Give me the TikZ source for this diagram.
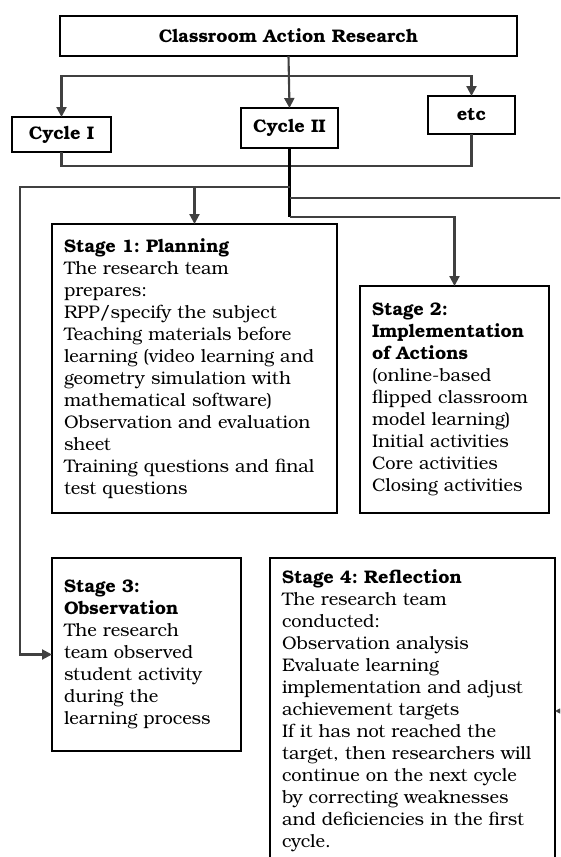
\documentclass[tikz,border=0pt]{standalone}
\usepackage{fontspec}
\setmainfont{texgyrebonum}[Extension=.otf, UprightFont=*-regular, BoldFont=*-bold, ItalicFont=*-italic, BoldItalicFont=*-bolditalic]
\usetikzlibrary{arrows.meta}
\newcommand\bodyfont{\fontsize{18.2}{22}\selectfont\frenchspacing}
\tikzset{
  box/.style={draw=black, line width=1.9pt, rectangle, outer sep=0pt, inner xsep=12pt, inner ysep=0pt, align=left, font=\bodyfont},
  headbox/.style={box, align=center, font=\bodyfont\bfseries},
  conn/.style={draw=black!75, line width=2.1pt},
  arr/.style={conn, -{Triangle[length=10pt,width=10pt]}},
}
\begin{document}
\begin{tikzpicture}[x=1pt,y=-1pt]
\useasboundingbox (0,0) rectangle (560,857);
\clip (0,0) rectangle (560,857);
\fill[white] (0,0) rectangle (560,857);

\node[headbox, anchor=north west, minimum width=457pt, minimum height=40pt] (title) at (60,16) {Classroom Action Research};
\node[headbox, anchor=north west, minimum width=99pt, minimum height=35pt] (c1) at (12,117) {Cycle I};
\node[headbox, anchor=north west, minimum width=97pt, minimum height=40pt] (c2) at (241,108) {Cycle II};
\node[headbox, anchor=north west, minimum width=87pt, minimum height=38pt] (etc) at (428,96) {etc};

\node[box, anchor=north west, text width=261pt, minimum height=289pt] (s1) at (52,224) {\textbf{Stage 1: Planning}\\
The research team\\
prepares:\\
RPP/specify the subject\\
Teaching materials before\\
learning (video learning and\\
geometry simulation with\\
mathematical software)\\
Observation and evaluation\\
sheet\\
Training questions and final\\
test questions};

\node[box, anchor=north west, text width=165pt, minimum height=227pt] (s2) at (360,286) {\textbf{Stage 2:}\\
\textbf{Implementation}\\
\textbf{of Actions}\\
(online-based\\
flipped classroom\\
model learning)\\
Initial activities\\
Core activities\\
Closing activities};

\node[box, anchor=north west, text width=165pt, minimum height=193pt] (s3) at (52,558) {\textbf{Stage 3:}\\
\textbf{Observation}\\
The research\\
team observed\\
student activity\\
during the\\
learning process};

\node[box, anchor=north west, text width=261pt, minimum height=306pt] (s4) at (270,558) {\textbf{Stage 4: Reflection}\\
The research team\\
conducted:\\
Observation analysis\\
Evaluate learning\\
implementation and adjust\\
achievement targets\\
If it has not reached the\\
target, then researchers will\\
continue on the next cycle\\
by correcting weaknesses\\
and deficiencies in the first\\
cycle.};

\coordinate (t1) at (title.south |- 0,76);
\coordinate (b1) at (c2.south |- 0,187);
\coordinate (b2) at (c2.south |- 0,198);
\coordinate (b3) at (c2.south |- 0,217);
\coordinate (l1) at (20,187);
\coordinate (r1) at (566,198);

\draw[arr] (title.south) -- (c2.north);
\draw[arr] (t1) -| (c1.north);
\draw[arr] (t1) -| (etc.north);
\draw[conn] (c1.south) -- ++(0,14) -| (etc.south);
\draw[conn, draw=black, line width=2.4pt] (c2.south) -- (b3);
\draw[arr] (b1) -| (s1.north);
\draw[arr] (b1) -- (l1) |- (s3.west);
\draw[arr] (b3) -| (s2.north);
\draw[arr] (b2) -- (r1) |- (s4.east);
\end{tikzpicture}
\end{document}
